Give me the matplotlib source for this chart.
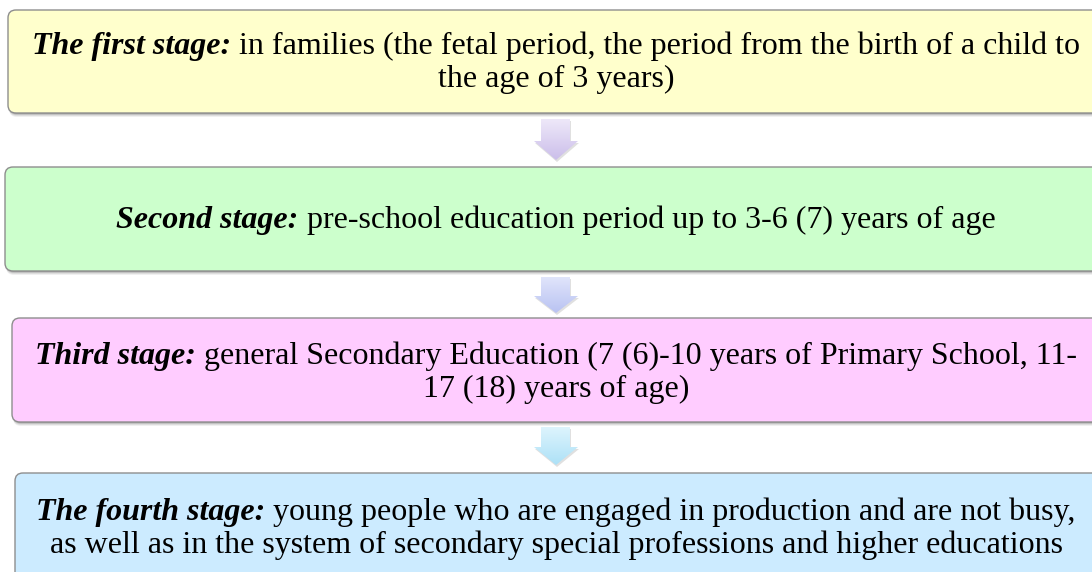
import numpy as np
import matplotlib.pyplot as plt
from matplotlib.patches import FancyBboxPatch, Polygon
from matplotlib.colors import to_rgb

W, H = 1092, 572

# stage text (bold italic lead + regular remainder, one entry per line)
stage_titles = ["The first stage:", "Second stage:", "Third stage:", "The fourth stage:"]
stage_lines = [
    [" in families (the fetal period, the period from the birth of a child to",
     "the age of 3 years)"],
    [" pre-school education period up to 3-6 (7) years of age"],
    [" general Secondary Education (7 (6)-10 years of Primary School, 11-",
     "17 (18) years of age)"],
    [" young people who are engaged in production and are not busy,",
     "as well as in the system of secondary special professions and higher educations"],
]
box_colors = ["#FFFFCC", "#CCFFCC", "#FFCCFF", "#CCEBFF"]
arrow_colors = [("#EEE8F9", "#CBBEEA"), ("#E0E5FB", "#B9C2F2"), ("#DDF4FD", "#ADE1F7")]

# layout in pixels: (left, top, bottom) of each box, first baseline
boxes = [(8, 10, 113), (5, 167, 271), (12, 318, 422), (15, 473, 610)]
baselines = [54, 228, 364, 520]
arrows = [(119, 141, 160), (277, 296, 313), (427, 447, 465)]
cx = 556
line_gap = 33
fs = 23

fig = plt.figure(figsize=(W / 100, H / 100), dpi=100)
ax = fig.add_axes([0, 0, 1, 1])
ax.set_xlim(0, W)
ax.set_ylim(H, 0)
ax.axis("off")

for (left, top, bottom), color in zip(boxes, box_colors):
    right = 1104
    # soft shadow
    for k, a in [(4, 0.06), (3, 0.08), (2, 0.12), (1, 0.15)]:
        ax.add_patch(FancyBboxPatch((left + 1, top + k), right - left, bottom - top,
                                    boxstyle="round,pad=0,rounding_size=8",
                                    fc="#000000", ec="none", alpha=a, zorder=1))
    ax.add_patch(FancyBboxPatch((left, top), right - left, bottom - top,
                                boxstyle="round,pad=0,rounding_size=8",
                                fc=color, ec="#8E8E8E", lw=1, zorder=2))

for (y0, y1, y2), (c_top, c_bot) in zip(arrows, arrow_colors):
    pts = [(541, y0), (570, y0), (570, y1), (578, y1), (556, y2),
           (534, y1), (541, y1)]
    shadow = Polygon([(x + 1, y + 2) for x, y in pts], closed=True,
                     fc="#000000", ec="none", alpha=0.12, zorder=2)
    ax.add_patch(shadow)
    poly = Polygon(pts, closed=True, fc="none", ec="none", zorder=3)
    ax.add_patch(poly)
    grad = np.linspace(0, 1, 64)[:, None, None]
    img = (1 - grad) * np.array(to_rgb(c_top)) + grad * np.array(to_rgb(c_bot))
    im = ax.imshow(img, extent=(534, 578, y2, y0), aspect="auto", zorder=3,
                   interpolation="bilinear")
    im.set_clip_path(poly)

ax.set_xlim(0, W)
ax.set_ylim(H, 0)

fig.canvas.draw()
renderer = fig.canvas.get_renderer()
font = "Liberation Serif"

for title, lines, base in zip(stage_titles, stage_lines, baselines):
    for i, line in enumerate(lines):
        y = base + i * line_gap
        if i == 0:
            t1 = ax.text(0, y, title, fontsize=fs, family=font, weight="bold",
                         style="italic", va="baseline", ha="left", zorder=5)
            t2 = ax.text(0, y, line, fontsize=fs, family=font, va="baseline",
                         ha="left", zorder=5)
            w1 = t1.get_window_extent(renderer).width
            w2 = t2.get_window_extent(renderer).width
            x0 = cx - (w1 + w2) / 2
            t1.set_x(x0)
            t2.set_x(x0 + w1)
        else:
            ax.text(cx, y, line, fontsize=fs, family=font, va="baseline",
                    ha="center", zorder=5)

fig.savefig("out.png", dpi=100)
